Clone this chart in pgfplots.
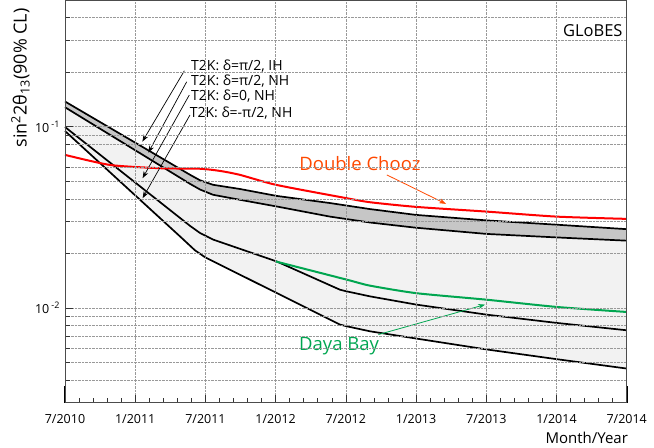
\documentclass[border=0pt]{standalone}
\usepackage{pgfplots}
\pgfplotsset{compat=1.18}
\usepgfplotslibrary{fillbetween}
\usetikzlibrary{arrows.meta}
\usepackage{fontspec}
\setmainfont{Open Sans}
\definecolor{dcred}{RGB}{255,0,0}
\definecolor{dctext}{RGB}{255,72,0}
\definecolor{dbgreen}{RGB}{0,166,80}
\definecolor{darkband}{RGB}{198,198,198}
\definecolor{lightband}{RGB}{242,242,242}

\newcommand{\expo}[1]{10\,\raisebox{0.8ex}{\fontsize{9}{9}\selectfont #1}}

\begin{document}
\begin{tikzpicture}
\begin{axis}[
  scale only axis, width=561.7pt, height=402.7pt,
  ymode=log, xmin=0, xmax=48, ymin=0.003, ymax=0.5,
  xtick={0,6,...,48},
  xticklabels={7/2010,1/2011,7/2011,1/2012,7/2012,1/2013,7/2013,1/2014,7/2014},
  minor x tick num=4,
  ytick={0.01,0.1},
  yticklabels={{\expo{-2}},{\expo{-1}}},
  minor ytick={0.004,0.005,0.006,0.007,0.008,0.009,0.02,0.03,0.04,0.05,0.06,0.08,0.09,0.2,0.3,0.4},
  tick align=inside, xtick pos=lower, ytick pos=left,
  major tick length=8pt, minor tick length=4.5pt,
  xmajorgrids, ymajorgrids, yminorgrids,
  major grid style={densely dotted, gray!80, line width=0.5pt},
  minor grid style={densely dotted, gray!80, line width=0.5pt},
  axis line style={black!70, line width=0.8pt},
  tick style={black!80, line width=0.6pt},
  xticklabel style={font=\fontsize{12.5}{14}\selectfont, yshift=-8pt},
  yticklabel style={font=\fontsize{12.5}{14}\selectfont, xshift=-2pt},
  axis on top,
  clip=false,
]
% T2K delta=pi/2, IH
\addplot[name path=L1, black, line width=1.7pt] coordinates {
 (0,0.1377) (10.68,0.0543) (11.54,0.0506) (12.65,0.0478) (14.96,0.0453)
 (18.08,0.0415) (22.65,0.0379) (26.07,0.0351) (30,0.0326) (36.04,0.0304)
 (41.97,0.0288) (48,0.0272)};
% T2K delta=pi/2, NH
\addplot[name path=L2, black, line width=1.7pt] coordinates {
 (0,0.128) (10.68,0.0484) (11.54,0.0450) (12.65,0.0421) (14.96,0.0395)
 (18.08,0.0363) (22.65,0.0319) (26.07,0.0296) (30,0.0277) (36.04,0.0256)
 (41.97,0.0245) (48,0.0235)};
% T2K delta=0, NH
\addplot[name path=L3, black, line width=1.7pt] coordinates {
 (0,0.0996) (10.68,0.02838) (11.54,0.0259) (12.68,0.0238) (18.09,0.01805)
 (23.5,0.0126) (24.08,0.01234) (26.07,0.01158) (30.03,0.01043)
 (36.04,0.00918) (41.99,0.00827) (48,0.00753)};
% T2K delta=-pi/2, NH
\addplot[name path=L4, black, line width=1.7pt] coordinates {
 (0,0.0946) (9.83,0.0248) (11.11,0.02078) (11.97,0.01904) (12.68,0.01805)
 (18.09,0.01209) (23.5,0.00809) (24.08,0.00792) (26.07,0.00743)
 (30,0.00678) (36.04,0.0059) (41.97,0.00522) (48,0.00463)};
\addplot[fill=lightband, draw=none] fill between[of=L2 and L4];
\addplot[fill=darkband, draw=none] fill between[of=L1 and L2];
% Double Chooz
\addplot[dcred, line width=2pt, smooth, tension=0.4] coordinates {
 (0,0.0699) (3.85,0.0615) (8.12,0.059) (11.54,0.0586) (13.25,0.057)
 (14.96,0.0542) (18.08,0.0477) (24.08,0.0403) (26.07,0.0383) (30,0.0361)
 (36.04,0.034) (42.03,0.0319) (48,0.031)};
% Daya Bay
\addplot[dbgreen, line width=2pt, smooth, tension=0.4] coordinates {
 (18,0.01805) (24.08,0.01432) (26.07,0.01327) (30.03,0.01206)
 (36.04,0.0111) (41.99,0.01013) (48,0.0095)};

\draw[line width=2pt] (rel axis cs:0,0) -- (rel axis cs:0,0.042);
\draw[line width=2pt] (rel axis cs:1,0) -- (rel axis cs:1,0.042);

\begin{scope}[every node/.style={anchor=west, font=\fontsize{14}{16}\selectfont, inner sep=0pt}]
\node at (axis cs:10.77,0.2159) {T2K: δ=π/2, IH};
\node at (axis cs:10.77,0.1790) {T2K: δ=π/2, NH};
\node at (axis cs:10.77,0.1476) {T2K: δ=0, NH};
\node at (axis cs:10.65,0.1190) {T2K: δ=-π/2, NH};
\end{scope}
\draw[-{Stealth[length=7pt,width=5pt]}, line width=0.7pt] (axis cs:10.2,0.2034) -- (axis cs:6.61,0.0827);
\draw[-{Stealth[length=7pt,width=5pt]}, line width=0.7pt] (axis cs:10.4,0.177) -- (axis cs:7.12,0.0719);
\draw[-{Stealth[length=7pt,width=5pt]}, line width=0.7pt] (axis cs:10.62,0.1495) -- (axis cs:6.63,0.052);
\draw[-{Stealth[length=7pt,width=5pt]}, line width=0.7pt] (axis cs:10.68,0.116) -- (axis cs:6.63,0.0403);

\node[text=dctext, font=\fontsize{18.5}{20}\selectfont] at (axis cs:25.2,0.0623) {Double Chooz};
\draw[dctext, -{Stealth[length=7pt,width=5pt]}, line width=0.8pt] (axis cs:27.5,0.0542) -- (axis cs:32.56,0.0375);
\node[text=dbgreen, font=\fontsize{18.5}{20}\selectfont] at (axis cs:23.42,0.00612) {Daya Bay};
\draw[dbgreen, -{Stealth[length=7pt,width=5pt]}, line width=0.8pt] (axis cs:26.78,0.00713) -- (axis cs:35.9,0.01043);

\node[font=\fontsize{16.5}{20}\selectfont] at (axis cs:45.1,0.3408) {GLoBES};
\node[font=\fontsize{15}{16}\selectfont] at (rel axis cs:0.9288,-0.0877) {Month/Year};
\node[rotate=90, font=\fontsize{18}{20}\selectfont] at (rel axis cs:-0.0792,0.8063) {sin\textsuperscript{2}2θ\textsubscript{13}(90\% CL)};
\end{axis}
\pgfresetboundingbox
\path ([shift={(-65pt,-44.3pt)}]current axis.south west) rectangle ([shift={(27.3pt,0pt)}]current axis.north east);
\end{tikzpicture}
\end{document}
